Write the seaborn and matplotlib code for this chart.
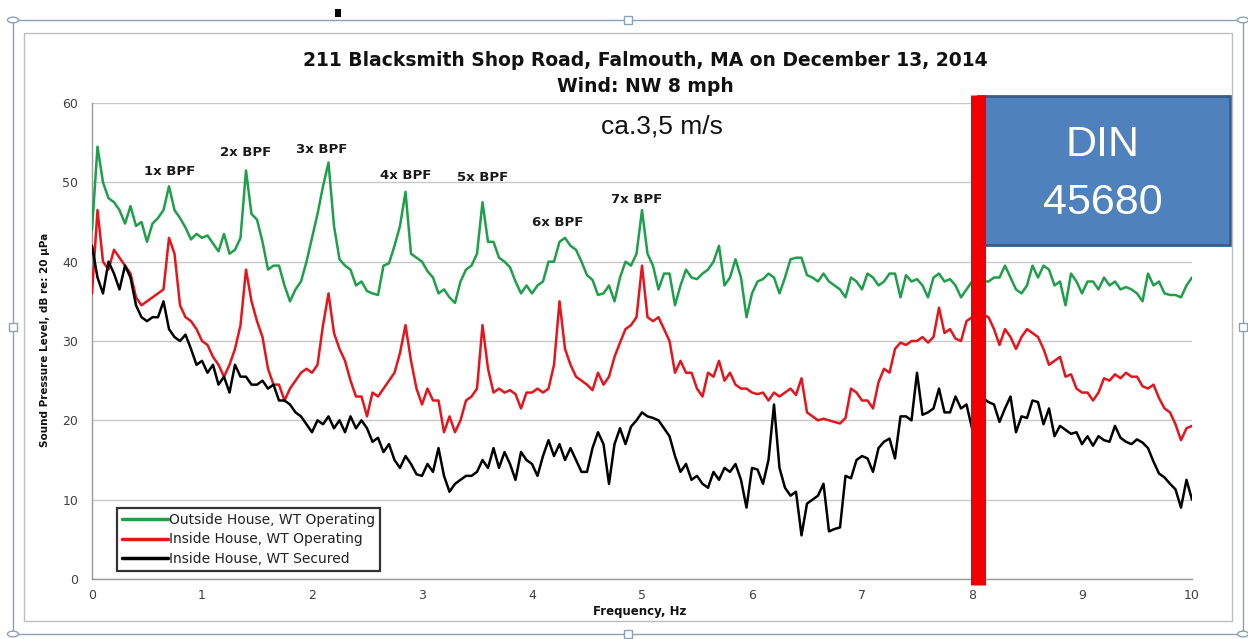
import numpy as np
import pandas as pd
import matplotlib
matplotlib.use("Agg")
import matplotlib.pyplot as plt
from matplotlib.patches import Rectangle, Circle
from matplotlib.lines import Line2D
import seaborn as sns

# frequency bins, Hz (0.05 Hz resolution)
freq = np.linspace(0, 10, 201)

# sound pressure level, dB re 20 uPa
outside_operating = [
    44, 54.5, 50, 48, 47.5, 46.5, 44.8, 47, 44.5, 45, 42.5, 44.8, 45.5, 46.5, 49.5, 46.5, 45.5, 44.3, 42.8, 43.5, 43,
    43.3, 42.3, 41.3, 43.5, 41, 41.5, 43, 51.5, 46, 45.3, 42.5, 39, 39.5, 39.5, 37, 35, 36.5, 37.5, 40, 43,
    46, 49.5, 52.5, 44.5, 40.3, 39.5, 39, 37, 37.5, 36.3, 36, 35.8, 39.5, 39.8, 42, 44.5, 48.8, 41, 40.5, 40,
    38.8, 38, 36, 36.5, 35.5, 34.8, 37.5, 39, 39.5, 41, 47.5, 42.5, 42.5, 40.5, 40, 39.3, 37.5, 36, 37, 36,
    37, 37.5, 40, 40, 42.5, 43, 42, 41.5, 40, 38.3, 37.7, 35.8, 36, 37, 35, 38, 40, 39.5, 41, 46.5,
    41, 39.5, 36.5, 38.5, 38.5, 34.5, 37, 39, 38, 37.8, 38.5, 39, 40, 42, 37, 38, 40.3, 38, 33, 36,
    37.5, 37.8, 38.5, 38, 36, 38, 40.3, 40.5, 40.5, 38.3, 38, 37.5, 38.5, 37.5, 37, 36.5, 35.5, 38, 37.5, 36.5,
    38.5, 38, 37, 37.5, 38.5, 38.5, 35.5, 38.3, 37.5, 37.8, 37, 35.5, 38, 38.5, 37.5, 37.8, 37, 35.5, 36.5, 37.5,
    37.5, 37.5, 37.5, 38, 38, 39.5, 38, 36.5, 36, 37, 39.5, 38, 39.5, 39, 37, 37.5, 34.5, 38.5, 37.5, 36,
    37.5, 37.5, 36.5, 38, 37, 37.5, 36.5, 36.8, 36.5, 36, 35, 38.5, 37, 37.5, 36, 35.8, 35.8, 35.5, 37, 38,
]
inside_operating = [
    36, 46.5, 40, 39, 41.5, 40.5, 39.5, 38.5, 35.5, 34.5, 35, 35.5, 36, 36.5, 43, 41, 34.5, 33, 32.5, 31.5, 30,
    29.5, 28, 27, 25.5, 27, 29, 32, 39, 35, 32.5, 30.5, 26.5, 24.5, 24.5, 22.5, 24, 25, 26, 26.5, 26,
    27, 32, 36, 31, 29, 27.5, 25, 23, 23, 20.5, 23.5, 23, 24, 25, 26, 28.5, 32, 27.5, 24, 22,
    24, 22.5, 22.5, 18.5, 20.5, 18.5, 20, 22.5, 23, 24, 32, 26.5, 23.5, 24, 23.5, 23.8, 23.3, 21.5, 23.5, 23.5,
    24, 23.5, 24, 27, 35, 29, 27, 25.5, 25, 24.5, 23.8, 26, 24.5, 25.5, 28, 29.8, 31.5, 32, 33, 39.5,
    33, 32.5, 33, 31.5, 30, 26, 27.5, 26, 26, 24, 23, 26, 25.5, 27.5, 25, 26, 24.5, 24, 24, 23.5,
    23.3, 23.5, 22.5, 23.5, 23, 23.5, 24, 23.2, 25.3, 21, 20.5, 20, 20.2, 20, 19.8, 19.6, 20.3, 24, 23.5, 22.5,
    22.5, 21.5, 24.8, 26.5, 26, 29, 29.8, 29.5, 30, 30, 30.5, 29.8, 30.5, 34.2, 31, 31.5, 30.3, 30, 32.5, 33,
    33, 33.3, 33, 31.5, 29.5, 31.5, 30.5, 29, 30.5, 31.5, 31, 30.5, 29, 27, 27.5, 28, 25.5, 25.8, 24, 23.5,
    23.5, 22.5, 23.5, 25.3, 25, 25.8, 25.3, 26, 25.5, 25.5, 24.3, 24, 24.5, 22.8, 21.5, 21, 19.5, 17.5, 19, 19.3,
]
inside_secured = [
    42, 38, 36, 40, 38.5, 36.5, 39.5, 38, 34.5, 33, 32.5, 33, 33, 35, 31.5, 30.5, 30, 30.8, 29, 27, 27.5,
    26, 27, 24.5, 25.5, 23.5, 27, 25.5, 25.5, 24.5, 24.5, 25, 24, 24.5, 22.5, 22.5, 22, 21, 20.5, 19.5, 18.5,
    20, 19.5, 20.5, 19, 20, 18.5, 20.5, 19, 20, 19, 17.3, 17.8, 16, 17, 15, 14, 15.5, 14.5, 13.2, 13,
    14.5, 13.5, 16.5, 13, 11, 12, 12.5, 13, 13, 13.5, 15, 14, 16.5, 14, 16, 14.5, 12.5, 16, 15, 14.5,
    13, 15.5, 17.5, 15.5, 17, 15, 16.5, 15, 13.5, 13.5, 16.5, 18.5, 17, 12, 17, 19, 17, 19.2, 20, 21,
    20.5, 20.3, 20, 19, 18, 15.5, 13.5, 14.5, 12.5, 13, 12, 11.5, 13.5, 12.5, 14, 13.5, 14.5, 12.5, 9, 14,
    13.8, 12, 15, 22, 14, 11.5, 10.5, 11, 5.5, 9.5, 10, 10.5, 12, 6, 6.3, 6.5, 13, 12.7, 15, 15.5,
    15.2, 13.5, 16.5, 17.3, 17.7, 15.2, 20.5, 20.5, 20, 26, 20.7, 21, 21.5, 24, 21, 21, 23, 21.5, 22, 19,
    22, 22.8, 22.3, 22, 19.8, 21.5, 23, 18.5, 20.5, 20.3, 22.5, 22.3, 19.5, 21.5, 18, 19.3, 18.8, 18.3, 18.5, 17,
    18, 16.8, 18, 17.5, 17.3, 19.3, 17.8, 17.3, 17, 17.6, 17.2, 16.5, 14.8, 13.3, 12.8, 12, 11.3, 9, 12.5, 10,
]

series_names = ["Outside House, WT Operating", "Inside House, WT Operating", "Inside House, WT Secured"]
series_colors = ["#1E9F4A", "#E8141B", "#000000"]

# blade pass frequency harmonics labels (freq, level)
bpf_labels = ["1x BPF", "2x BPF", "3x BPF", "4x BPF", "5x BPF", "6x BPF", "7x BPF"]
bpf_freq = [0.71, 1.40, 2.09, 2.85, 3.55, 4.23, 4.95]
bpf_level = [51.4, 53.7, 54.1, 50.8, 50.6, 44.9, 47.8]

df = pd.concat([
    pd.DataFrame({"freq": freq, "level": vals, "series": name})
    for name, vals in zip(series_names, [outside_operating, inside_operating, inside_secured])
])

sns.set_style("white")
plt.rcParams['font.family'] = ['DejaVu Sans']

W, H = 1248, 639
fig = plt.figure(figsize=(W / 100, H / 100), dpi=100)
fig.patch.set_facecolor("white")

def fx(px):
    return px / W

def fy(py):
    return 1 - py / H

ax = fig.add_axes([fx(92), fy(579), fx(1192) - fx(92), fy(103) - fy(579)])

sns.lineplot(data=df, x="freq", y="level", hue="series", palette=series_colors,
             hue_order=series_names, estimator=None, sort=False, linewidth=1.8,
             legend=False, ax=ax, zorder=3)

ax.set_xlim(0, 10)
ax.set_ylim(0, 60)
ax.set_xticks(range(0, 11))
ax.set_yticks(range(0, 61, 10))
ax.set_xlabel("")
ax.set_ylabel("")
ax.yaxis.grid(True, color="#C8C8C8", linewidth=1)
ax.set_axisbelow(True)
for side in ["top", "right"]:
    ax.spines[side].set_visible(False)
for side in ["left", "bottom"]:
    ax.spines[side].set_color("#9A9A9A")
    ax.spines[side].set_linewidth(1)
ax.tick_params(axis="both", direction="out", length=4, color="#9A9A9A",
               labelsize=9, labelcolor="#404040")
ax.tick_params(axis="x", pad=3)
ax.tick_params(axis="y", pad=6)

# harmonic labels
for lab, f, lv in zip(bpf_labels, bpf_freq, bpf_level):
    ax.text(f, lv, lab, ha="center", va="center", fontsize=9.5,
            fontweight="bold", color="#1A1A1A", zorder=5)

ax.text(0.518, 0.9496, "ca.3,5 m/s", transform=ax.transAxes, ha="center", va="center",
        fontsize=19, family=["Liberation Sans"], color="#111111")

# DIN 45680 box and 8 Hz marker
ax.add_patch(Rectangle((0.8055, 0.7017), 1.0345 - 0.8055, 1.0147 - 0.7017,
                       transform=ax.transAxes, facecolor="#4F81BD", edgecolor="#385D8A",
                       linewidth=2, clip_on=False, zorder=6))
ax.text(0.919, 0.912, "DIN", transform=ax.transAxes, ha="center", va="center",
        fontsize=31, color="white", family=["Liberation Sans"], zorder=7)
ax.text(0.919, 0.790, "45680", transform=ax.transAxes, ha="center", va="center",
        fontsize=31, color="white", family=["Liberation Sans"], zorder=7)
ax.axvline(8.05, ymin=-0.013, ymax=1.017, color="#F00000", linewidth=10.8,
           solid_capstyle="butt", clip_on=False, zorder=8)

# legend
handles = [Line2D([0], [0], color=c, linewidth=2.5) for c in series_colors]
leg = ax.legend(handles, series_names, loc="lower left", bbox_to_anchor=(0.023, 0.017),
                fontsize=10, frameon=True, fancybox=False, handlelength=3.3,
                handletextpad=0.05, labelspacing=0.4, borderpad=0.35, borderaxespad=0)
leg.get_frame().set_edgecolor("black")
leg.get_frame().set_linewidth(1.6)
for t in leg.get_texts():
    t.set_color("#222222")

# titles and axis labels
fig.text(fx(645), fy(60), "211 Blacksmith Shop Road, Falmouth, MA on December 13, 2014",
         ha="center", va="center", fontsize=13.5, fontweight="bold", color="#111111")
fig.text(fx(645), fy(86), "Wind: NW 8 mph", ha="center", va="center",
         fontsize=13.5, fontweight="bold", color="#111111")
fig.text(fx(45), fy(340), "Sound Pressure Level, dB re: 20 \u00b5Pa", rotation=90,
         ha="center", va="center", fontsize=7.5, fontweight="bold", color="#111111")
fig.text(fx(640), fy(611), "Frequency, Hz", ha="center", va="center",
         fontsize=8.5, fontweight="bold", color="#111111")

# chart area border and slide selection frame
fig.add_artist(Rectangle((fx(24), fy(621)), fx(1232) - fx(24), fy(33) - fy(621),
                         transform=fig.transFigure, fill=False, edgecolor="#BDBDBD", linewidth=1))
fig.add_artist(Rectangle((fx(13), fy(634)), fx(1243) - fx(13), fy(20) - fy(634),
                         transform=fig.transFigure, fill=False, edgecolor="#8AA2B5", linewidth=1))
for hx, hy in [(13, 20), (1243, 20), (13, 634), (1243, 634)]:
    fig.add_artist(Circle((fx(hx), fy(hy)), 5.5 / W, transform=fig.transFigure,
                          facecolor="white", edgecolor="#8AA2B5", linewidth=1))
for hx, hy in [(628, 20), (13, 327), (1243, 327), (628, 634)]:
    fig.add_artist(Rectangle((fx(hx - 4), fy(hy + 4)), 8 / W, 8 / H, transform=fig.transFigure,
                             facecolor="white", edgecolor="#8AA2B5", linewidth=1))
fig.add_artist(Rectangle((fx(335), fy(17)), 6 / W, 8 / H, transform=fig.transFigure,
                         facecolor="black", edgecolor="none"))

fig.savefig("out.png", dpi=100, facecolor="white")
